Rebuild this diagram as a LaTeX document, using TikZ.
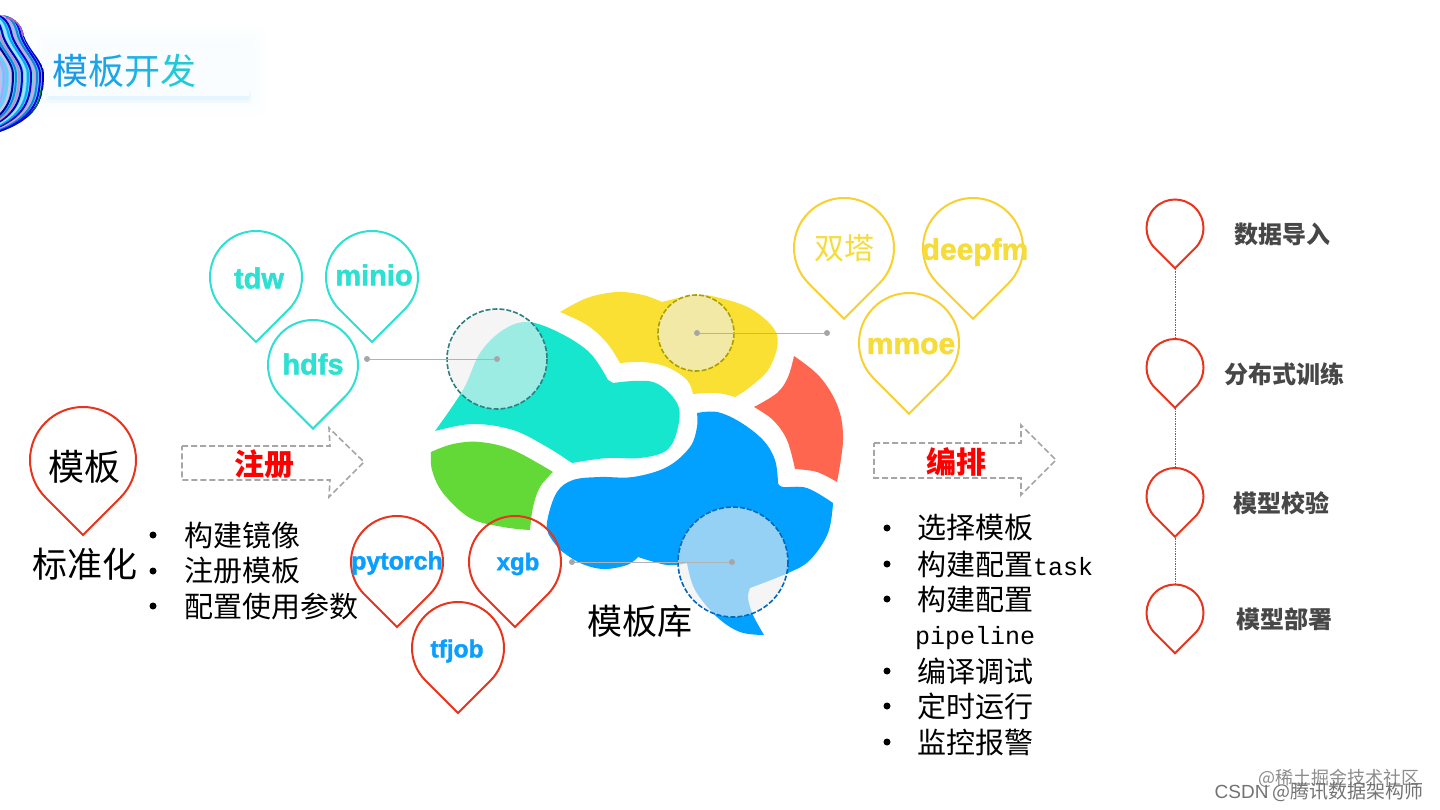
\documentclass[tikz,border=0pt]{standalone}
\usepackage{fontspec}
\setmainfont{Liberation Sans}[BoldFeatures={FakeBold=1.6}]
\setmonofont{Liberation Mono}
\newfontfamily\cjk{Noto Sans CJK SC}
\usetikzlibrary{positioning}
\definecolor{pinred}{HTML}{E8341C}
\definecolor{pinteal}{HTML}{2EE0D2}
\definecolor{pinyellow}{HTML}{F8D030}
\definecolor{textyellow}{HTML}{F6DC3A}
\definecolor{textblue}{HTML}{0A9FFF}
\definecolor{braingreen}{HTML}{62D936}
\definecolor{brainteal}{HTML}{17E6CF}
\definecolor{brainyellow}{HTML}{FAE032}
\definecolor{brainred}{HTML}{FF6650}
\definecolor{brainblue}{HTML}{02A0FF}
\tikzset{
    pinlabel/.style={inner sep=0pt,font=\fontsize{#1}{#1}\selectfont\bfseries},
    cjklabel/.style={inner sep=0pt,font=\fontsize{#1}{#1}\selectfont\cjk},
    listline/.style={inner sep=0pt,anchor=west,font=\fontsize{29}{29}\selectfont\cjk},
    stepname/.style={inner sep=0pt,text=black!72,font=\fontsize{24}{24}\selectfont\cjk\bfseries},
    bullet/.style={circle,fill=black,inner sep=0pt,minimum size=7pt},
    dot/.style={circle,fill=black!35,inner sep=0pt,minimum size=6pt},
    leader/.style={draw=black!30,line width=1pt},
    lens/.style={fill=black!6,fill opacity=.62,line width=1.6pt,dash pattern=on 5pt off 2pt},
    blockarrow/.style={draw=black!35,line width=1.6pt,dash pattern=on 6pt off 3pt},
    stepline/.style={draw=black!60,line width=.5pt,dash pattern=on 1.5pt off 1pt}
}
\newcommand{\pinmark}[4]{%
    \draw[#1,line width=#4] (#2) ++(45:#3) arc (45:-225:#3) -- ++(45:#3) -- cycle;
}
\begin{document}
\begin{tikzpicture}[x=1pt,y=-1pt]
    \useasboundingbox (0,0) rectangle (1440,810);
    \fill[white] (0,0) rectangle (1440,810);

    \foreach \g/\c in {16/.6,12/1,8/1.5,4/2.2}{
        \fill[cyan!\c!white,rounded corners=8pt] (46-\g,42-\g) rectangle (250+\g,100+\g);
    }
    \fill[cyan!6!white,rounded corners=4pt] (46,90) rectangle (251,103);
    \fill[cyan!11!white,rounded corners=3pt] (48,92) rectangle (249,100);
    \fill[white!98!cyan] (47,42) rectangle (249,96);
    \begin{scope}
        \clip (0,15) .. controls (10,15) and (22,22) .. (24,36) .. controls (30,52) and (44,62) .. (44,74) .. controls (44,100) and (38,118) .. (0,132) -- cycle;
        \fill[blue!25!cyan!60!white] (0,10) rectangle (50,135);
        \foreach \o/\c in {0/blue!70!black,3/blue!90!violet,6/cyan!70!blue,9/violet!35!white,12/blue!80!black,15/cyan,18/cyan!35!white,21/blue!75!black,24/violet!45!white,27/cyan!75!blue,30/blue!60!black,33/violet!25!white,36/cyan!60!white,39/blue!35!white,42/black!25!blue!25!white}{
            \draw[\c,line width=2pt,xshift=-\o pt] (8,15) .. controls (20,18) and (22,28) .. (24,36) .. controls (30,52) and (43,62) .. (43,74) .. controls (43,100) and (38,118) .. (0,131);
        }
        \draw[green!55!black,line width=1pt] (41,90) .. controls (39,105) and (33,115) .. (20,124);
        \draw[violet!60!white,line width=2pt] (6,18) .. controls (16,18) and (22,26) .. (23,36);
    \end{scope}

    \node[cjklabel=36,anchor=west] (title) at (52,71) {\textcolor[HTML]{1A9BE8}{模}\textcolor[HTML]{1BA6E8}{板}\textcolor[HTML]{1EB4E4}{开}\textcolor[HTML]{22CAD8}{发}};

    \fill[brainteal] plot[smooth,tension=.6] coordinates {(435,431) (463,390) (480,353) (503,330) (528,322) (560,333) (590,353) (608,380)}
        -- (613,383) plot[smooth,tension=.6] coordinates {(613,383) (653,382) (677,403) (678,427) (667,450) (640,458) (607,458) (572,463)}
        -- plot[smooth,tension=.6] coordinates {(572,463) (547,447) (513,430) (473,424) (435,431)} -- cycle;
    \fill[brainyellow] plot[smooth,tension=.6] coordinates {(560,312) (587,298) (617,292) (643,295) (662,302)}
        -- plot[smooth,tension=.6] coordinates {(662,302) (695,295) (720,298) (753,310) (777,335) (770,367) (750,387) (735,397)}
        -- plot[smooth,tension=.6] coordinates {(735,397) (717,393) (693,394)}
        -- plot[smooth,tension=.6] coordinates {(693,394) (687,380) (667,367) (643,362) (620,363)}
        -- plot[smooth,tension=.6] coordinates {(620,363) (607,343) (587,325) (560,312)} -- cycle;
    \fill[brainred] plot[smooth,tension=.6] coordinates {(794,356) (820,377) (838,407) (843,440) (837,482)}
        -- plot[smooth,tension=.6] coordinates {(837,482) (817,472) (795,469)}
        -- plot[smooth,tension=.6] coordinates {(795,469) (787,440) (773,420) (754,407)}
        -- plot[smooth,tension=.6] coordinates {(754,407) (777,393) (788,377) (794,356)} -- cycle;
    \fill[braingreen] plot[smooth,tension=.6] coordinates {(431,452) (453,444) (480,442) (513,450) (553,472)}
        -- plot[smooth,tension=.6] coordinates {(553,472) (540,487) (533,507) (530,530)}
        -- plot[smooth,tension=.6] coordinates {(530,530) (503,527) (470,518) (443,493) (432,470) (431,452)} -- cycle;
    \fill[brainblue] plot[smooth,tension=.6] coordinates {(697,413) (717,412) (740,422) (763,440) (775,460) (778,483)}
        -- plot[smooth,tension=.6] coordinates {(778,483) (783,487) (807,488) (833,503)}
        -- plot[smooth,tension=.6] coordinates {(833,503) (828,533) (810,560) (788,573) (750,588)}
        -- plot[smooth,tension=.6] coordinates {(750,588) (748,598) (753,615) (764,635)}
        -- plot[smooth,tension=.6] coordinates {(764,635) (740,632) (717,617) (695,590) (687,563)}
        -- plot[smooth,tension=.6] coordinates {(687,563) (667,565) (638,557)}
        -- plot[smooth,tension=.6] coordinates {(638,557) (627,565) (603,569) (580,563) (560,550)}
        -- plot[smooth,tension=.6] coordinates {(560,550) (548,533) (548,517) (557,492) (573,480) (600,477) (633,477) (667,467) (690,447) (697,427) (697,413)} -- cycle;

    \draw[lens,draw=teal!65!gray] (497,359) circle (50);
    \draw[lens,draw=olive!75!yellow] (696,333) circle (38);
    \draw[lens,draw=blue!45!cyan!75!black] (733,562) circle (55);

    \node[dot] (hdfsend) at (367,359) {};
    \node[dot] (tealmid) at (497,359) {};
    \node[dot] (yellowmid) at (697,333) {};
    \node[dot] (yellowend) at (827,333) {};
    \node[dot] (xgbend) at (572,562) {};
    \node[dot] (bluemid) at (732,562) {};
    \draw[leader] (hdfsend) -- (tealmid);
    \draw[leader] (yellowmid) -- (yellowend);
    \draw[leader] (xgbend) -- (bluemid);

    \pinmark{pinteal}{256,277}{46}{2pt}
    \pinmark{pinteal}{372,277}{46}{2pt}
    \pinmark{pinteal}{313,365}{45}{2pt}
    \pinmark{pinyellow}{844,248}{50}{2pt}
    \pinmark{pinyellow}{973,248}{50}{2pt}
    \pinmark{pinyellow}{909,343}{50}{2pt}
    \pinmark{pinred}{83,460}{53}{2pt}
    \pinmark{pinred}{397,562}{46}{2pt}
    \pinmark{pinred}{515,562}{46}{2pt}
    \pinmark{pinred}{458,648}{46}{2pt}
    \pinmark{pinred}{1175,228}{28.5}{2pt}
    \pinmark{pinred}{1175,367.5}{28.5}{2pt}
    \pinmark{pinred}{1175,496.5}{28.5}{2pt}
    \pinmark{pinred}{1175,613}{28.5}{2pt}

    \coordinate (stepa) at (1175,269);
    \coordinate (stepb) at (1175,339);
    \coordinate (stepc) at (1175,408);
    \coordinate (stepd) at (1175,468);
    \coordinate (stepe) at (1175,538);
    \coordinate (stepf) at (1175,584);
    \draw[stepline] (stepa) -- (stepb);
    \draw[stepline] (stepc) -- (stepd);
    \draw[stepline] (stepe) -- (stepf);

    \node[pinlabel=29,text=pinteal] (tdw) at (259,278) {tdw};
    \node[pinlabel=29,text=pinteal] (minio) at (374,275) {minio};
    \node[pinlabel=29,text=pinteal] (hdfs) at (313,364) {hdfs};
    \node[cjklabel=30,text=textyellow] (shuangta) at (844,248) {双塔};
    \node[pinlabel=30,text=textyellow] (deepfm) at (975,252) {deepfm};
    \node[pinlabel=30,text=textyellow] (mmoe) at (911,346) {mmoe};
    \node[pinlabel=25,text=textblue] (pytorch) at (397,563) {pytorch};
    \node[pinlabel=24,text=textblue] (xgb) at (518,564) {xgb};
    \node[pinlabel=24.5,text=textblue] (tfjob) at (457,651) {tfjob};
    \node[cjklabel=36] (moban) at (84,467) {模板};
    \node[cjklabel=35] (biaozhun) at (85,564) {标准化};
    \node[cjklabel=35] (mubanku) at (640,621) {模板库};

    \draw[blockarrow] (182,446) -- (330,446) -- (329,428) -- (364,462) -- (329,497) -- (330,480) -- (182,480) -- cycle;
    \draw[blockarrow] (874,443) -- (1021,443) -- (1021,425) -- (1056,460) -- (1021,495) -- (1021,478) -- (874,478) -- cycle;
    \node[cjklabel=30,text=red,font=\fontsize{30}{30}\selectfont\cjk\bfseries] (zhuce) at (264,464) {注册};
    \node[cjklabel=30,text=red,font=\fontsize{30}{30}\selectfont\cjk\bfseries] (bianpai) at (956,462) {编排};

    \foreach \n/\y/\t in {a/535/构建镜像,b/571/注册模板,c/606/配置使用参数}{
        \node[bullet] (lb\n) at (153,\y) {};
        \node[listline] (lt\n) at (184,\y) {\t};
    }
    \foreach \n/\y/\t in {a/528/选择模板,b/564/{构建配置{\fontsize{25}{25}\selectfont\ttfamily task}},c/599/构建配置,e/671/编译调试,f/706/定时运行,g/742/监控报警}{
        \node[bullet] (rb\n) at (887,\y) {};
        \node[listline] (rt\n) at (917,\y) {\t};
    }
    \node[listline,font=\fontsize{25}{25}\selectfont\ttfamily] (rtd) at (915,638) {pipeline};

    \node[stepname] (stepone) at (1282,234) {数据导入};
    \node[stepname] (steptwo) at (1284,374) {分布式训练};
    \node[stepname] (stepthree) at (1281,503) {模型校验};
    \node[stepname] (stepfour) at (1284,619) {模型部署};

    \node[cjklabel=18,text=black!45,anchor=east] (markjj) at (1420,778) {@稀土掘金技术社区};
    \node[cjklabel=19,text=black!55,anchor=east] (markcsdn) at (1424,792) {{\rmfamily CSDN} @腾讯数据架构师};
\end{tikzpicture}
\end{document}
